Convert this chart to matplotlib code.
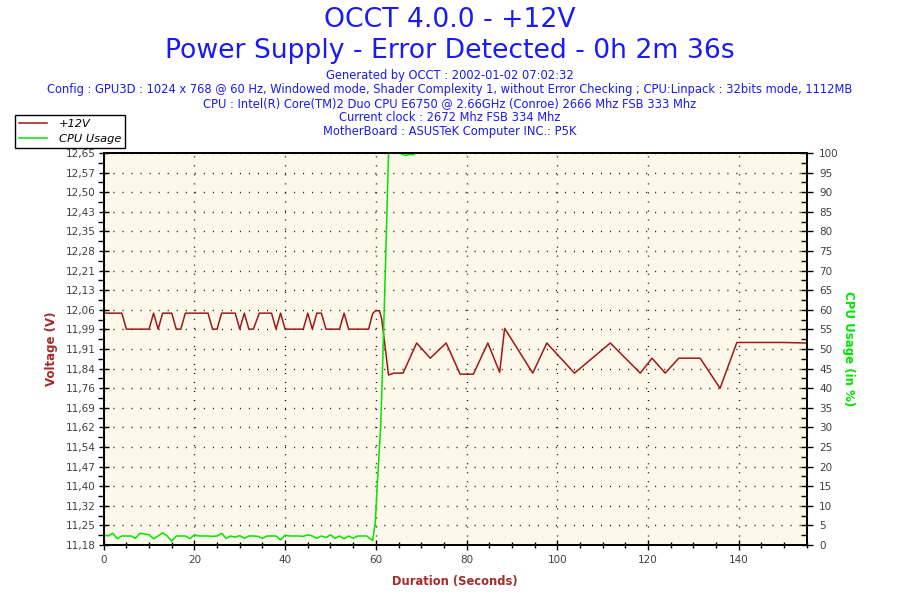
import numpy as np
import matplotlib.pyplot as plt
from matplotlib.ticker import MultipleLocator, FixedLocator

# ── Data ──────────────────────────────────────────────────────────────────────
volt_t = [0, 4, 5, 10, 11, 12, 13, 15, 16, 17, 18, 23, 24, 25, 26, 29, 30, 31,
          32, 33, 34.3, 37, 38, 39, 40, 44, 45, 46, 47, 48, 49, 52, 53, 54, 58.4,
          59.3, 59.9, 60.8, 61.3, 62.8, 64, 66, 69, 72, 75.5, 78.6, 81.5, 84.7,
          87.3, 88.4, 94.6, 97.7, 103.8, 111.7, 118.3, 120.9, 123.8, 126.8,
          131.5, 135.9, 139.6, 140.7, 149.9, 155]
volt_v = [12.047, 12.047, 11.987, 11.987, 12.047, 11.987, 12.047, 12.047, 11.987,
          11.987, 12.047, 12.047, 11.987, 11.987, 12.047, 12.047, 11.987, 12.047,
          11.987, 11.987, 12.047, 12.047, 11.987, 12.047, 11.987, 11.987, 12.047,
          11.987, 12.047, 12.047, 11.987, 11.987, 12.047, 11.987, 11.987,
          12.045, 12.056, 12.056, 12.025, 11.815, 11.822, 11.822, 11.935, 11.878,
          11.935, 11.818, 11.818, 11.935, 11.825, 11.990, 11.822, 11.935, 11.822,
          11.935, 11.822, 11.878, 11.822, 11.878, 11.878, 11.765, 11.937, 11.937,
          11.937, 11.935]

cpu_idle = [2.6, 2.3, 3.0, 1.6, 2.3, 2.3, 2.3, 1.7, 3.0, 2.8, 2.6, 1.6, 2.3, 3.1,
            2.3, 1.0, 2.3, 2.3, 2.3, 1.6, 2.6, 2.3, 2.3, 2.3, 2.2, 2.3, 3.0, 1.7,
            2.3, 2.0, 2.4, 1.7, 2.3, 2.3, 2.2, 1.7, 2.3, 2.3, 2.3, 1.3, 2.5, 2.3,
            2.3, 2.3, 2.2, 2.6, 2.3, 1.7, 2.3, 1.9, 2.6, 1.7, 2.3, 1.6, 2.3, 1.7,
            2.3, 2.3, 2.3]
cpu_load_t = [59.3, 59.9, 60.3, 61.1, 61.6, 62.1, 62.8, 65.0, 65.8, 66.5, 67.3,
              68.3, 68.8, 155]
cpu_load_v = [1.1, 6, 15, 31, 50, 70, 100, 100, 99.7, 99.4, 99.6, 99.6, 100, 100]

volt_ticks = ["11,18", "11,25", "11,32", "11,40", "11,47", "11,54", "11,62",
              "11,69", "11,76", "11,84", "11,91", "11,99", "12,06", "12,13",
              "12,21", "12,28", "12,35", "12,43", "12,50", "12,57", "12,65"]

cpu_t = list(range(len(cpu_idle))) + cpu_load_t
cpu_v = cpu_idle + cpu_load_v

# ── Figure ────────────────────────────────────────────────────────────────────
W, H = 900, 600
fig = plt.figure(figsize=(9, 6), dpi=100)
fig.patch.set_facecolor("white")

left, right, top, bottom = 103.7, 806.7, 153, 545
ax = fig.add_axes([left / W, 1 - bottom / H, (right - left) / W, (bottom - top) / H])
ax.set_facecolor("#fdf8e9")
ax2 = ax.twinx()

vmin, vmax = 11.177, 12.648
red = "#a01818"
green = "#00e600"
tick_col = "#404040"

l1, = ax.plot(volt_t, volt_v, color=red, lw=1.1)
l2, = ax2.plot(cpu_t, cpu_v, color=green, lw=1.1)

ax.set_xlim(0, 155)
ax.set_ylim(vmin, vmax)
ax2.set_ylim(0, 100)

ax.yaxis.set_major_locator(FixedLocator(np.linspace(vmin, vmax, 21)))
ax.set_yticklabels(volt_ticks)
ax.yaxis.set_minor_locator(FixedLocator(np.linspace(vmin, vmax, 41)))
ax.xaxis.set_major_locator(MultipleLocator(20))
ax.xaxis.set_minor_locator(MultipleLocator(5))
ax2.yaxis.set_major_locator(MultipleLocator(5))
ax2.yaxis.set_minor_locator(MultipleLocator(2.5))

ax.tick_params(axis="both", which="major", direction="inout", length=7, width=1,
               labelsize=7.5, labelcolor=tick_col, pad=2)
ax.tick_params(axis="y", which="minor", direction="out", length=4, width=1)
ax.tick_params(axis="x", which="minor", direction="inout", length=5, width=1)
ax.tick_params(axis="x", which="major", pad=4)
ax2.tick_params(axis="y", which="major", direction="inout", length=8, width=1,
                labelsize=7.5, labelcolor=tick_col, pad=5)
ax2.tick_params(axis="y", which="minor", direction="in", length=4, width=1)

ax.grid(True, which="major", color="black", lw=1, linestyle=(0, (0.7, 5.8)))

for a in (ax, ax2):
    for s in a.spines.values():
        s.set_linewidth(1.3)
        s.set_zorder(5)

ax.set_xlabel("Duration (Seconds)", color="#a52a2a", fontsize=8.3,
              fontweight="bold", labelpad=7)
ax.set_ylabel("Voltage (V)", color="#a52a2a", fontsize=8.5,
              fontweight="bold", labelpad=6)
ax2.set_ylabel("CPU Usage (in %)", color=green, fontsize=8.5,
               fontweight="bold", rotation=270, labelpad=12)

# ── Header texts ──────────────────────────────────────────────────────────────
blue = "#1a1af6"
fig.text(0.5, 1 - 20 / H, "OCCT 4.0.0 - +12V", ha="center", va="center",
         fontsize=19.2, color=blue)
fig.text(0.5, 1 - 51 / H, "Power Supply - Error Detected - 0h 2m 36s",
         ha="center", va="center", fontsize=19.2, color=blue)
info = ["Generated by OCCT : 2002-01-02 07:02:32",
        "Config : GPU3D : 1024 x 768 @ 60 Hz, Windowed mode, Shader Complexity 1, "
        "without Error Checking ; CPU:Linpack : 32bits mode, 1112MB",
        "CPU : Intel(R) Core(TM)2 Duo CPU E6750 @ 2.66GHz (Conroe) 2666 Mhz FSB 333 Mhz",
        "Current clock : 2672 Mhz FSB 334 Mhz",
        "MotherBoard : ASUSTeK Computer INC.: P5K"]
for i, line in enumerate(info):
    fig.text(0.5, 1 - (76 + i * 13.8) / H, line, ha="center", va="center",
             fontsize=8.3, color=blue)

leg = fig.legend([l1, l2], ["+12V", "CPU Usage"], loc="upper left",
                 bbox_to_anchor=(15 / W, 1 - 115 / H), bbox_transform=fig.transFigure,
                 fancybox=False, framealpha=1, edgecolor="black",
                 prop={"style": "italic", "size": 8.2}, handlelength=2.5,
                 borderaxespad=0, borderpad=0.35, labelspacing=0.45, handletextpad=1.0)
leg.get_frame().set_linewidth(1)

fig.savefig("out.png", dpi=100)
